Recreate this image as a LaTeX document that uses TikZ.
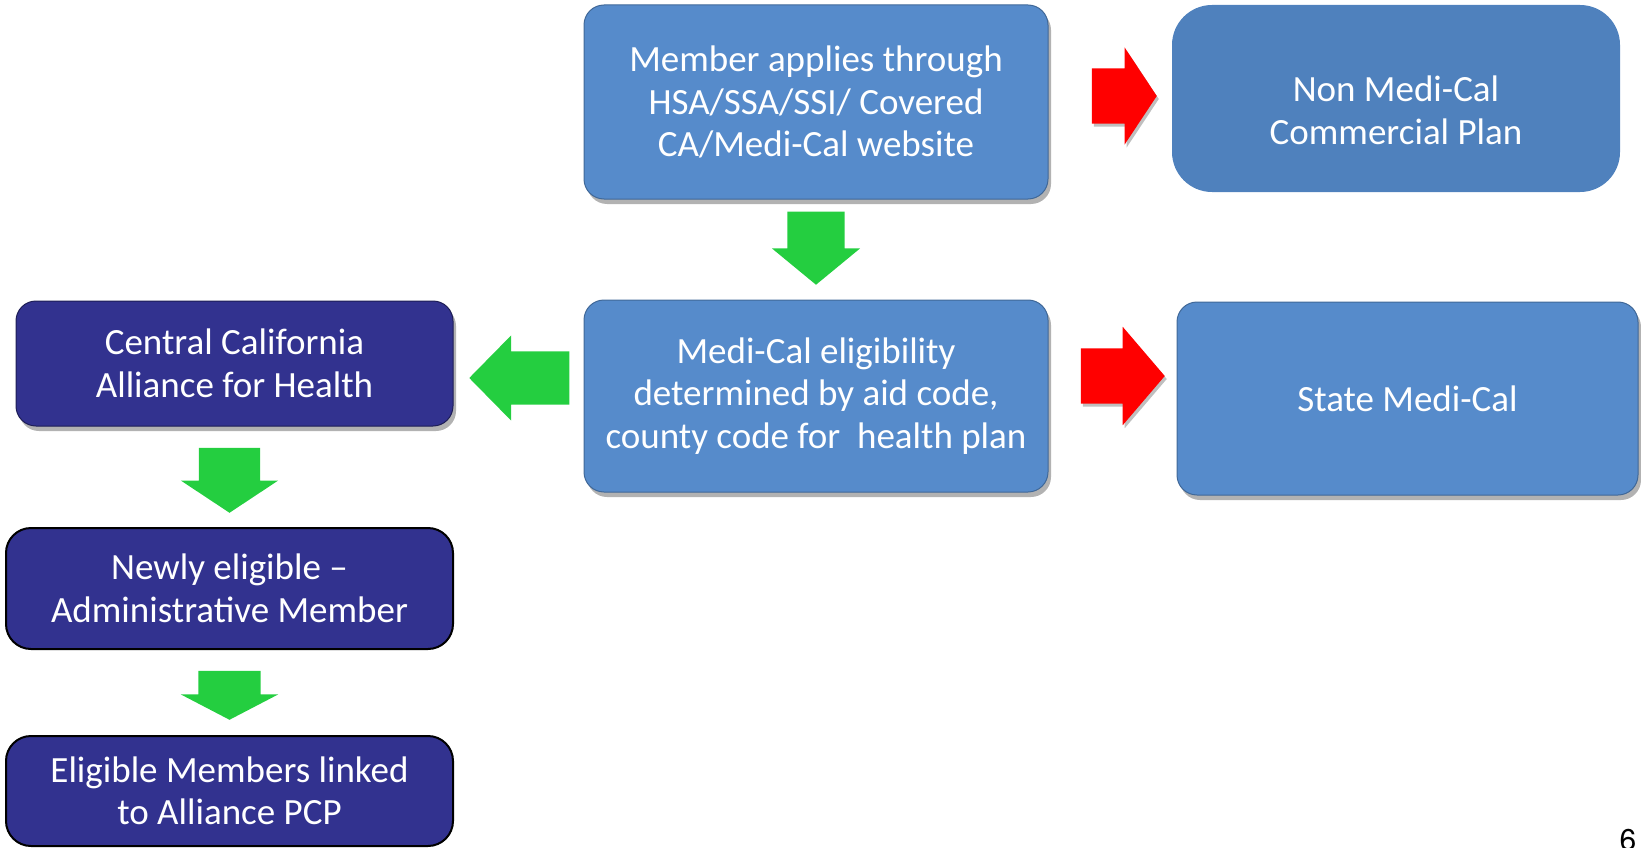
\documentclass[tikz,border=0pt]{standalone}
\usepackage{fontspec}
\setmainfont{Carlito}
\newfontfamily\pagefont{TeX Gyre Heros}
\usetikzlibrary{shapes.arrows,shadows,positioning}
\definecolor{boxblue}{RGB}{86,139,203}
\definecolor{planblue}{RGB}{79,129,189}
\definecolor{navyblue}{RGB}{50,50,143}
\definecolor{arrowgreen}{RGB}{36,206,64}
\definecolor{arrowred}{RGB}{255,0,0}
\tikzset{every node/.style={font=\fontsize{37}{42.5}\selectfont, text=white, align=center}}
\tikzset{boxshadow/.style={drop shadow={shadow xshift=3pt, shadow yshift=-5pt, opacity=.3, fill=black}}}
\tikzset{bluebox/.style={shape=rectangle, rounded corners=20pt, fill=boxblue,
    draw=boxblue!75!black, line width=1pt, boxshadow}}
\tikzset{navybox/.style={shape=rectangle, rounded corners=20pt, fill=navyblue,
    draw=navyblue!60!black, line width=1pt, boxshadow}}
\tikzset{linkbox/.style={shape=rectangle, rounded corners=25pt, fill=navyblue,
    draw=black, line width=2pt}}
\tikzset{fatarrow/.style={single arrow, anchor=tip, inner xsep=0pt, inner ysep=#1,
    text height=0pt, text depth=0pt, single arrow head indent=0pt}}
\tikzset{redarrow/.style={fatarrow=#1, fill=arrowred,
    drop shadow={shadow xshift=2pt, shadow yshift=-3pt, opacity=.25, fill=black}}}
\tikzset{greenarrow/.style={fatarrow=#1, fill=arrowgreen}}

\begin{document}
\begin{tikzpicture}[x=1pt, y=-1pt]
    \useasboundingbox (0,0) rectangle (1641,848);

    % top row
    \node(apply)[bluebox, minimum width=464pt, minimum height=194pt] at (816,102)
        {Member applies through\\HSA/SSA/SSI/ Covered\\CA/Medi-Cal website};
    \node(nonplan)[shape=rectangle, rounded corners=40pt, fill=planblue,
        minimum width=448pt, minimum height=187pt] at (1396,98.5) {};
    \node(nontext) at ([yshift=-12pt]nonplan.center) {Non Medi-Cal\\Commercial Plan};

    % middle row
    \node(elig)[bluebox, minimum width=464pt, minimum height=192pt] at (816,396)
        {Medi-Cal eligibility\\determined by aid code,\\county code for\ \ health plan};
    \node(state)[bluebox, minimum width=461pt, minimum height=193pt] at (1407.5,398.5)
        {State Medi-Cal};
    \node(alliance)[navybox, minimum width=437pt, minimum height=125pt] at (234.5,363.5)
        {Central California\\Alliance for Health};

    % left column
    \node(newly)[linkbox, minimum width=447pt, minimum height=121pt] at (229.5,588.5)
        {Newly eligible --\\Administrative Member};
    \node(linked)[linkbox, minimum width=447pt, minimum height=110pt] at (229.5,791)
        {Eligible Members linked\\to Alliance PCP};

    % block arrows, placed by their tips
    \node(r1)[redarrow=27.5pt, minimum height=65pt,
        single arrow head extend=21pt, single arrow tip angle=113] at (1157,96) {};
    \node(r2)[redarrow=27.5pt, minimum height=84pt,
        single arrow head extend=21.5pt, single arrow tip angle=99] at (1165,376) {};
    \node(g1)[greenarrow=28.5pt, rotate=-90, minimum height=73pt,
        single arrow head extend=15.5pt, single arrow tip angle=101] at (816,285) {};
    \node(g2)[greenarrow=26.5pt, rotate=180, minimum height=100pt,
        single arrow head extend=16pt, single arrow tip angle=91] at (469,378) {};
    \node(g3)[greenarrow=30.5pt, rotate=-90, minimum height=65pt,
        single arrow head extend=18pt, single arrow tip angle=113] at (229.5,513) {};
    \node(g4)[greenarrow=31pt, rotate=-90, minimum height=49pt,
        single arrow head extend=17.5pt, single arrow tip angle=125] at (229.5,720) {};

    % page number
    \node(pagenum)[anchor=north, text=black, font=\pagefont\fontsize{30}{36}\selectfont]
        at (1628,826) {6};
\end{tikzpicture}
\end{document}
